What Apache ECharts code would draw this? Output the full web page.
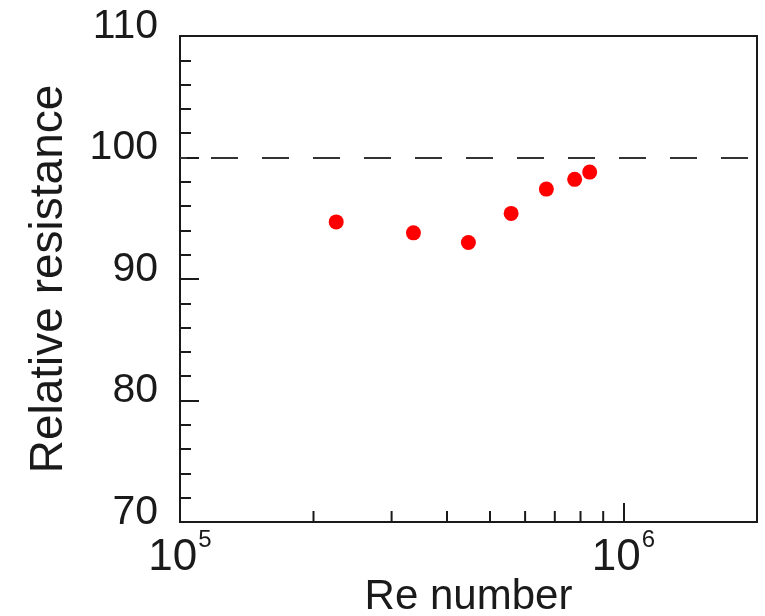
<!DOCTYPE html>
<html>
<head>
<meta charset="utf-8">
<script src="https://cdn.jsdelivr.net/npm/echarts@6/dist/echarts.min.js"></script>
<style>
  html, body { margin: 0; padding: 0; background: #fff; }
  #chart { width: 765px; height: 616px; }
</style>
</head>
<body>
<div id="chart"></div>
<script>
// Re number vs relative resistance (%)
const reNumber = [2.25e5, 3.36e5, 4.47e5, 5.58e5, 6.70e5, 7.76e5, 8.39e5]
const resistance = [94.7, 93.8, 93.0, 95.4, 97.4, 98.2, 98.8]
const referenceLevel = 100
const xMinorTicks = [2e5, 3e5, 4e5, 5e5, 6e5, 7e5, 8e5, 9e5]
const yTicks = [70, 80, 90, 100, 110]

const chart = echarts.init(document.getElementById('chart'))

const font = 'Liberation Sans, Arial, sans-serif'
const ink = '#1a1a1a'

const option = {
  backgroundColor: '#fff',
  animation: false,
  grid: {
    left: 180,
    top: 36,
    right: 8,
    bottom: 94,
    outerBoundsMode: 'none',
    containLabel: false,
    show: true,
    borderColor: ink,
    borderWidth: 2
  },
  xAxis: {
    type: 'log',
    logBase: 10,
    min: 1e5,
    max: 2e6,
    name: 'Re number',
    nameLocation: 'middle',
    nameGap: 54,
    nameMoveOverlap: false,
    nameTextStyle: { color: ink, fontSize: 42, fontFamily: font },
    axisLine: { lineStyle: { color: ink, width: 2 } },
    axisTick: { inside: true, length: 19, lineStyle: { color: ink, width: 2 } },
    splitLine: { show: false },
    axisLabel: {
      margin: 2,
      formatter: v => {
        const e = Math.round(Math.log10(v))
        if (Math.abs(Math.pow(10, e) - v) > 1) return ''
        return '{b|10}{sup|' + e + '}'
      },
      rich: {
        b: { fontSize: 44, fontFamily: font, color: ink, verticalAlign: 'bottom', lineHeight: 44 },
        sup: { fontSize: 24, fontFamily: font, color: ink, verticalAlign: 'top', lineHeight: 56, padding: [4, 0, 0, 1] }
      }
    }
  },
  yAxis: {
    type: 'value',
    min: yTicks[0],
    max: yTicks[yTicks.length - 1],
    interval: 10,
    name: 'Relative resistance',
    nameLocation: 'middle',
    nameGap: 108,
    nameMoveOverlap: false,
    nameTextStyle: { color: ink, fontSize: 46, fontFamily: font },
    axisLine: { lineStyle: { color: ink, width: 2 } },
    axisTick: { inside: true, length: 19, lineStyle: { color: ink, width: 2 } },
    minorTick: { show: true, splitNumber: 5, length: 11, lineStyle: { color: ink, width: 2 } },
    splitLine: { show: false },
    axisLabel: { color: ink, fontSize: 41, fontFamily: font, margin: 22, verticalAlign: 'bottom', lineHeight: 19 }
  },
  series: [
    {
      type: 'scatter',
      data: reNumber.map((x, i) => [x, resistance[i]]),
      symbolSize: 15,
      itemStyle: { color: '#ff0000', opacity: 1 },
      markLine: {
        silent: true,
        symbol: 'none',
        label: { show: false },
        lineStyle: { color: '#333', width: 2, type: [27, 24], dashOffset: 20, opacity: 1 },
        data: [{ yAxis: referenceLevel }]
      }
    },
    {
      type: 'custom',
      silent: true,
      clip: false,
      data: xMinorTicks.map(v => [v, yTicks[0]]),
      renderItem: (params, api) => {
        const p = api.coord([api.value(0), api.value(1)])
        return {
          type: 'line',
          shape: { x1: p[0], y1: p[1], x2: p[0], y2: p[1] - 11 },
          style: { stroke: ink, lineWidth: 2 }
        }
      }
    }
  ]
}

chart.setOption(option)
</script>
</body>
</html>
